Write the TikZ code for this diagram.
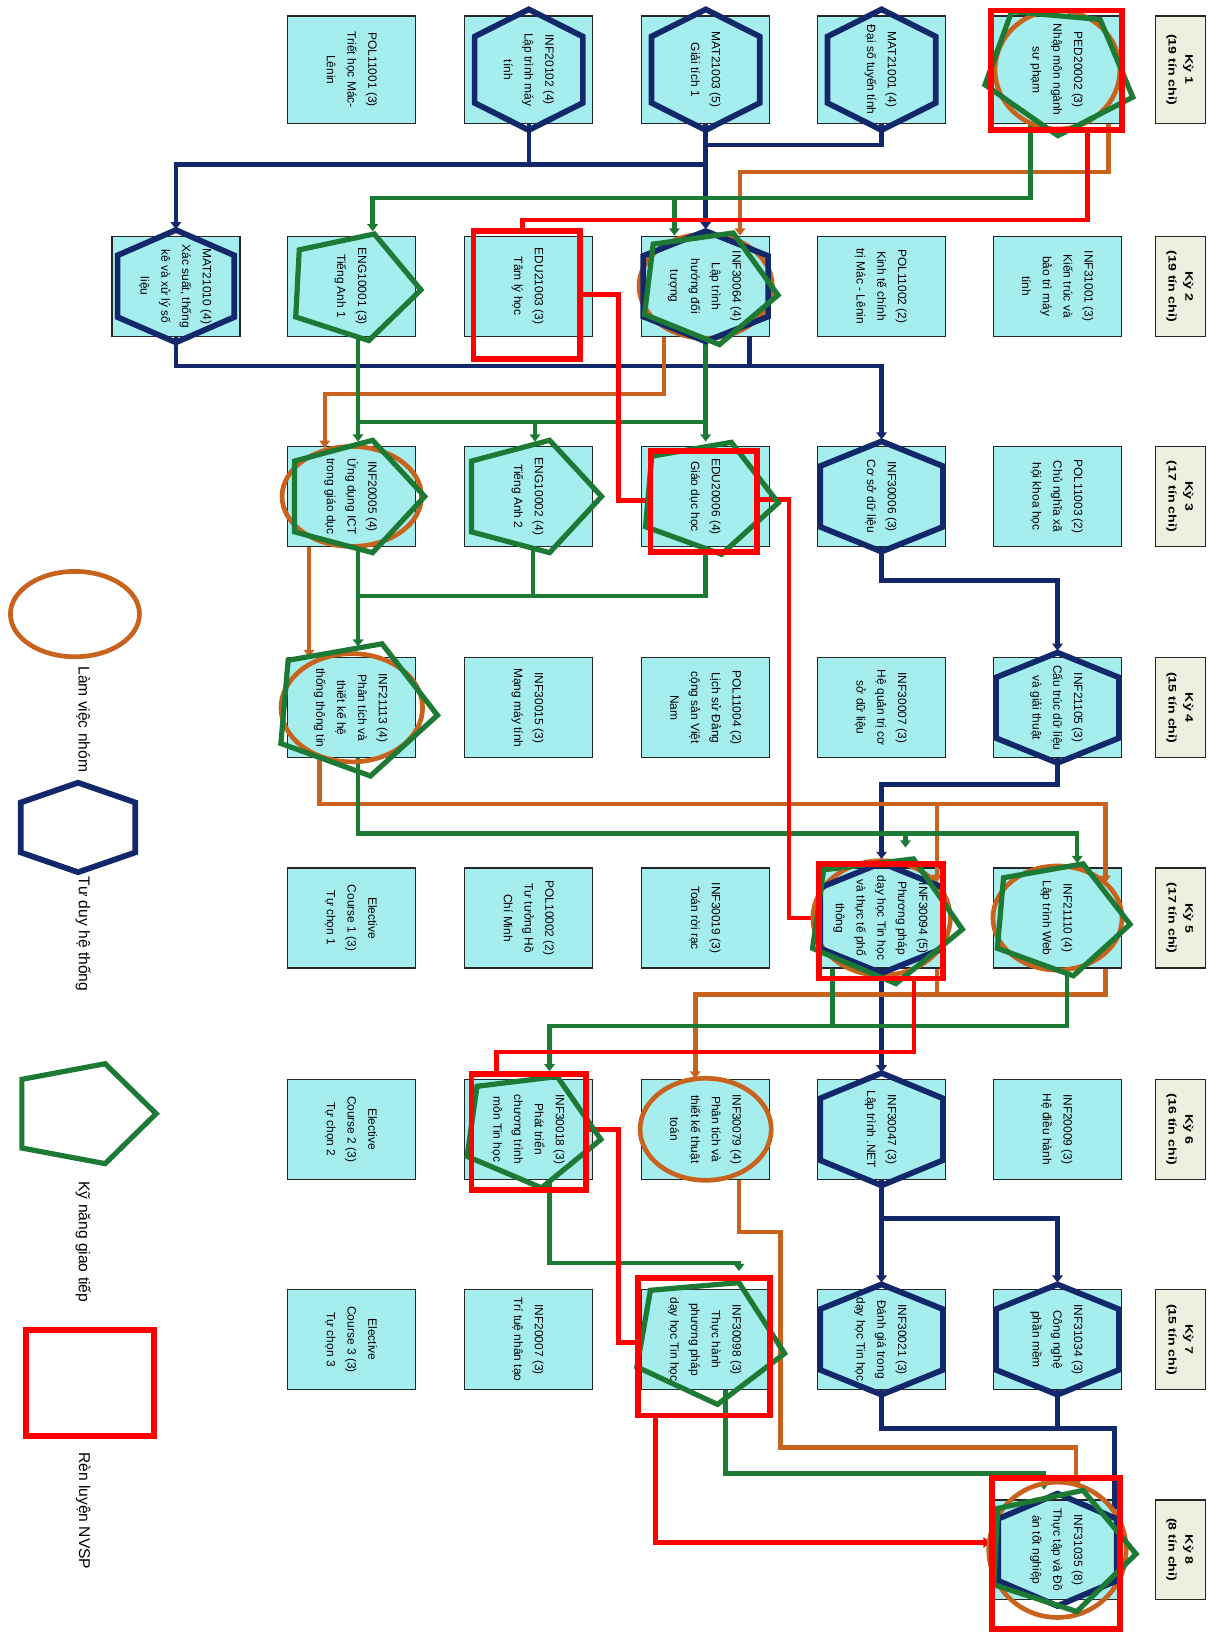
\documentclass[tikz,border=0pt]{standalone}
\usepackage{fontspec}
\setmainfont{Liberation Sans}
\usepackage{graphicx}
\usetikzlibrary{arrows.meta}

\definecolor{boxcyan}{HTML}{A6EEEE}
\definecolor{kygreen}{HTML}{EBF1DE}
\definecolor{sysblue}{HTML}{13286B}
\definecolor{commgreen}{HTML}{1D7A35}
\definecolor{teamorange}{HTML}{C8621C}
\definecolor{nvspred}{HTML}{FF0000}

% course text, turned to read downwards
\newcommand{\crs}[1]{\rotatebox{-90}{\begin{tabular}{@{}c@{}}#1\end{tabular}}}
\newcommand{\kylab}[2]{\rotatebox{-90}{\scalebox{1.3}[1]{\begin{tabular}{@{}c@{}}Kỳ #1\\(#2 tín chỉ)\end{tabular}}}}

\begin{document}
\begin{tikzpicture}[
  x=1pt, y=-1pt,
  >={Triangle[length=7pt,width=10pt]},
  course/.style = {
    draw=black!85, line width=1.3pt,
    fill=boxcyan, inner sep=0pt,
    minimum width=\boxw, minimum height=\boxh,
    font=\fontsize{11.5}{20}\selectfont
  },
  tall/.style  = {minimum height=103pt},
  kybox/.style = {
    draw=black!85, line width=1.3pt,
    fill=kygreen, inner sep=0pt,
    minimum width=48pt, minimum height=\boxh,
    font=\bfseries\fontsize{10.5}{16}\selectfont
  },
  sys/.style  = {draw=sysblue, line width=4.3pt},
  team/.style = {draw=teamorange, line width=4.3pt},
  comm/.style = {draw=commgreen, line width=4.3pt},
  nvsp/.style = {draw=nvspred, line width=4.3pt},
  sysring/.style  = {draw=sysblue, line width=5.5pt},
  teamring/.style = {draw=teamorange, line width=4.5pt},
  commring/.style = {draw=commgreen, line width=5pt},
  nvspring/.style = {draw=nvspred, line width=5.5pt},
  legtext/.style  = {rotate=-90, anchor=west, inner sep=0pt, font=\fontsize{15}{17}\selectfont}
]

% ---- constants ----
\def\boxw{123pt}     % course box width
\def\boxh{96pt}      % course box height
\def\cA{169} \def\cB{338} \def\cC{508} \def\cD{678} \def\cE{847} \def\cF{1016} \def\cK{1134}
\def\rA{67} \def\rB{275} \def\rC{477} \def\rD{680} \def\rE{882} \def\rF{1085} \def\rG{1287} \def\rH{1489}

\path[fill=white, use as bounding box] (0,0) rectangle (1171,1568);

% ---- Kỳ 1 ----
\node[kybox,tall] (ky1) at (\cK,\rA) {\kylab{1}{19}};
\node[course,tall] (pol11001) at (\cB,\rA) {\crs{POL11001 (3)\\Triết học Mác-\\Lênin}};
\node[course,tall] (inf20102) at (\cC,\rA) {\crs{INF20102 (4)\\Lập trình máy\\tính}};
\node[course,tall] (mat21003) at (\cD,\rA) {\crs{MAT21003 (5)\\Giải tích 1}};
\node[course,tall] (mat21001) at (\cE,\rA) {\crs{MAT21001 (4)\\Đại số tuyến tính}};
\node[course,tall] (ped20002) at (\cF,\rA) {\crs{PED20002 (3)\\Nhập môn ngành\\sư phạm}};

% ---- Kỳ 2 ----
\node[kybox] (ky2) at (\cK,\rB) {\kylab{2}{19}};
\node[course] (mat21010) at (\cA,\rB) {\crs{MAT21010 (4)\\Xác suất, thống\\kê và xử lý số\\liệu}};
\node[course] (eng10001) at (\cB,\rB) {\crs{ENG10001 (3)\\Tiếng Anh 1}};
\node[course] (edu21003) at (\cC,\rB) {\crs{EDU21003 (3)\\Tâm lý học}};
\node[course] (inf30064) at (\cD,\rB) {\crs{INF30064 (4)\\Lập trình\\hướng đối\\tượng}};
\node[course] (pol11002) at (\cE,\rB) {\crs{POL11002 (2)\\Kinh tế chính\\trị Mác - Lênin}};
\node[course] (inf31001) at (\cF,\rB) {\crs{INF31001 (3)\\Kiến trúc và\\bảo trì máy\\tính}};

% ---- Kỳ 3 ----
\node[kybox] (ky3) at (\cK,\rC) {\kylab{3}{17}};
\node[course] (inf20005) at (\cB,\rC) {\crs{INF20005 (4)\\Ứng dụng ICT\\trong giáo dục}};
\node[course] (eng10002) at (\cC,\rC) {\crs{ENG10002 (4)\\Tiếng Anh 2}};
\node[course] (edu20006) at (\cD,\rC) {\crs{EDU20006 (4)\\Giáo dục học}};
\node[course] (inf30006) at (\cE,\rC) {\crs{INF30006 (3)\\Cơ sở dữ liệu}};
\node[course] (pol11003) at (\cF,\rC) {\crs{POL11003 (2)\\Chủ nghĩa xã\\hội khoa học}};

% ---- Kỳ 4 ----
\node[kybox] (ky4) at (\cK,\rD) {\kylab{4}{15}};
\node[course] (inf21113) at (\cB,\rD) {\crs{INF21113 (4)\\Phân tích và\\thiết kế hệ\\thống thông tin}};
\node[course] (inf30015) at (\cC,\rD) {\crs{INF30015 (3)\\Mạng máy tính}};
\node[course] (pol11004) at (\cD,\rD) {\crs{POL11004 (2)\\Lịch sử Đảng\\cộng sản Việt\\Nam}};
\node[course] (inf30007) at (\cE,\rD) {\crs{INF30007 (3)\\Hệ quản trị cơ\\sở dữ liệu}};
\node[course] (inf21105) at (\cF,\rD) {\crs{INF21105 (3)\\Cấu trúc dữ liệu\\và giải thuật}};

% ---- Kỳ 5 ----
\node[kybox] (ky5) at (\cK,\rE) {\kylab{5}{17}};
\node[course] (elec1) at (\cB,\rE) {\crs{Elective\\Course 1 (3)\\Tự chọn 1}};
\node[course] (pol10002) at (\cC,\rE) {\crs{POL10002 (2)\\Tư tưởng Hồ\\Chí Minh}};
\node[course] (inf30019) at (\cD,\rE) {\crs{INF30019 (3)\\Toán rời rạc}};
\node[course] (inf30094) at (\cE,\rE) {\crs{INF30094 (5)\\Phương pháp\\dạy học Tin học\\và thực tế phổ\\thông}};
\node[course] (inf21110) at (\cF,\rE) {\crs{INF21110 (4)\\Lập trình Web}};

% ---- Kỳ 6 ----
\node[kybox] (ky6) at (\cK,\rF) {\kylab{6}{16}};
\node[course] (elec2) at (\cB,\rF) {\crs{Elective\\Course 2 (3)\\Tự chọn 2}};
\node[course] (inf30018) at (\cC,\rF) {\crs{INF30018 (3)\\Phát triển\\chương trình\\môn Tin học}};
\node[course] (inf30079) at (\cD,\rF) {\crs{INF30079 (4)\\Phân tích và\\thiết kế thuật\\toán}};
\node[course] (inf30047) at (\cE,\rF) {\crs{INF30047 (3)\\Lập trình .NET}};
\node[course] (inf20009) at (\cF,\rF) {\crs{INF20009 (3)\\Hệ điều hành}};

% ---- Kỳ 7 ----
\node[kybox] (ky7) at (\cK,\rG) {\kylab{7}{15}};
\node[course] (elec3) at (\cB,\rG) {\crs{Elective\\Course 3 (3)\\Tự chọn 3}};
\node[course] (inf20007) at (\cC,\rG) {\crs{INF20007 (3)\\Trí tuệ nhân tạo}};
\node[course] (inf30098) at (\cD,\rG) {\crs{INF30098 (3)\\Thực hành\\phương pháp\\dạy học Tin học}};
\node[course] (inf30021) at (\cE,\rG) {\crs{INF30021 (3)\\Đánh giá trong\\dạy học Tin học}};
\node[course] (inf31034) at (\cF,\rG) {\crs{INF31034 (3)\\Công nghệ\\phần mềm}};

% ---- Kỳ 8 ----
\node[kybox] (ky8) at (\cK,\rH) {\kylab{8}{8}};
\node[course] (inf31035) at (\cF,\rH) {\crs{INF31035 (8)\\Thực tập và Đồ\\án tốt nghiệp}};

% ---- navy connectors (Tư duy hệ thống) ----
\draw[sys,->] (mat21003.south) -- ++(0,39) -| ([yshift=6pt]mat21010.north);
\draw[sys] (inf20102.south) -- ++(0,39);
\draw[sys,->] (mat21003.south) -- ([yshift=6pt]inf30064.north);
\draw[sys] (mat21001.south) -- ++(0,20) -| ([yshift=-20pt]mat21003.south);
\draw[sys,->] (mat21010.south) -- ++(0,28) -| ([yshift=6pt]inf30006.north);
\draw[sys] ([xshift=42pt]inf30064.south) -- ++(0,28);
\draw[sys,->] (inf30006.south) -- ++(0,32) -| ([yshift=6pt]inf21105.north);
\draw[sys,->] (inf21105.south) -- ++(0,25) -| ([yshift=8pt]inf30094.north);
\draw[sys,->] (inf30094.south) -- ([yshift=6pt]inf30047.north);
\draw[sys,->] (inf30047.south) -- ++(0,37) -| ([yshift=6pt]inf31034.north);
\draw[sys,->] (inf30047.south) -- ([yshift=6pt]inf30021.north);
\draw[sys,->] (inf30021.south) -- ++(0,37) -| ([xshift=55pt,yshift=-12pt]inf31035.north);
\draw[sys] (inf31034.south) -- ++(0,37);

% ---- orange connectors (Làm việc nhóm) ----
\draw[team,->] ([xshift=49pt]ped20002.south) -- ++(0,46) -| ([xshift=33pt]inf30064.north);
\draw[team,->] ([xshift=-40pt]inf30064.south) -- ++(0,55) -| ([xshift=-26pt,yshift=-2pt]inf20005.north);
\draw[team,->] ([xshift=-41pt]inf20005.south) -- ([xshift=-41pt]inf21113.north);
\draw[team,->] ([xshift=-31pt]inf21113.south) -- ++(0,44) -| ([xshift=46pt,yshift=-15pt]inf21110.north);
\draw[team,->] ([xshift=-31pt]inf21113.south) -- ++(0,44) -| ([xshift=53pt,yshift=-14pt]inf30094.north);
\draw[team,->] ([xshift=46pt]inf21110.south) -- ++(0,25) -| ([xshift=-10pt]inf30079.north);
\draw[team] ([xshift=53pt]inf30094.south) -- ++(0,25);
\draw[team,->] ([xshift=32pt]inf30079.south) -- ++(0,50) -- ++(40,0) -- ++(0,207)
  -| ([xshift=18pt,yshift=11pt]inf31035.north);

% ---- green connectors (Kỹ năng giao tiếp) ----
\draw[comm,->] ([xshift=-26pt]ped20002.south) -- ++(0,71) -| ([xshift=20pt,yshift=4pt]eng10001.north);
\draw[comm,->] ([xshift=-26pt]ped20002.south) -- ++(0,71) -| ([xshift=-30pt]inf30064.north);
\draw[comm,->] ([xshift=6pt]eng10001.south) -- ([xshift=6pt,yshift=4pt]inf20005.north);
\draw[comm,->] ([xshift=6pt]eng10001.south) -- ++(0,82) -| ([xshift=6pt,yshift=4pt]eng10002.north);
\draw[comm,->] ([xshift=6pt]eng10001.south) -- ++(0,82) -| ([yshift=4pt]edu20006.north);
\draw[comm] (inf30064.south) -- ++(0,82);
\draw[comm,->] ([xshift=6pt]inf20005.south) -- ([xshift=6pt,yshift=10pt]inf21113.north);
\draw[comm] ([xshift=4pt]eng10002.south) -- ++(0,47) -- ([xshift=6pt,yshift=-47pt]inf20005.south);
\draw[comm] (edu20006.south) -- ++(0,47) -- ([xshift=4pt,yshift=-47pt]eng10002.south);
\draw[comm,->] ([xshift=6pt]inf21113.south) -- ++(0,72) -| ([xshift=19pt,yshift=4pt]inf21110.north);
\draw[comm,->] ([xshift=6pt]inf21113.south) -- ++(0,72) -| ([xshift=23pt,yshift=19pt]inf30094.north);
\draw[comm,->] ([xshift=9pt]inf21110.south) -- ++(0,55) -| ([xshift=20pt,yshift=7pt]inf30018.north);
\draw[comm] ([xshift=-47pt]inf30094.south) -- ++(0,55);
\draw[comm,->] ([xshift=20pt]inf30018.south) -- ++(0,80) -| ([xshift=32pt,yshift=17pt]inf30098.north);
\draw[comm,->] ([xshift=19pt]inf30098.south) -- ++(0,80) -| ([xshift=-13pt,yshift=9pt]inf31035.north);

% ---- red connectors (Rèn luyện NVSP) ----
\draw[nvsp] ([xshift=29pt,yshift=-6pt]ped20002.south) -- ++(0,86) -| ([xshift=-6pt,yshift=5pt]edu21003.north);
\draw[nvsp] ([xshift=-12pt,yshift=-8pt]edu21003.east) -- ++(36,0) |- ([xshift=7pt,yshift=-4pt]edu20006.west);
\draw[nvsp] ([xshift=-12pt,yshift=-3pt]edu20006.east) -- ++(30,0) |- ([xshift=2pt]inf30094.west);
\draw[nvsp] ([xshift=31pt,yshift=-10pt]inf30094.south) -- ++(0,70) -| ([xshift=-31pt,yshift=5pt]inf30018.north);
\draw[nvsp] ([xshift=-6pt]inf30018.east) -- ++(30,0) |- ([xshift=-3pt,yshift=-3pt]inf30098.west);
\draw[nvsp,->] ([xshift=-48pt,yshift=-25pt]inf30098.south) |- ([xshift=-2pt,yshift=7pt]inf31035.west);

% ---- skill outlines ----
\foreach \n/\rx/\ry in {ped20002/60/57, inf30064/64/50, inf20005/67/48, inf21113/68/52,
    inf30094/66/55, inf21110/62/50, inf30079/63/49, inf31035/66/65}
  \draw[teamring] (\n.center) ellipse [x radius=\rx, y radius=\ry];

\foreach \n/\hw/\hh in {inf20102/52/58, mat21003/52/58, mat21001/52/58, mat21010/56/54,
    inf30064/60/53, inf30006/59/53, inf21105/59/53, inf30094/59/53, inf30047/59/54,
    inf30021/59/53, inf31034/59/53, inf31035/57/54}
  \draw[sysring] (\n.center) +(0,-\hh) -- +(\hw,-0.55*\hh) -- +(\hw,0.55*\hh) -- +(0,\hh)
    -- +(-\hw,0.55*\hh) -- +(-\hw,-0.55*\hh) -- cycle;

\foreach \n/\rot/\sc in {ped20002/-20/1.1, eng10001/-3/0.95, inf30064/-7/1.0, inf20005/0/1.0,
    eng10002/0/1.0, edu20006/-5/1.0, inf21113/-5/1.18, inf30094/-8/1.12, inf21110/-5/1.0,
    inf30018/-8/1.0, inf30098/-10/1.1, inf31035/-3/1.08} {
  \begin{scope}[shift={(\n.center)}, rotate=\rot, scale=\sc]
    \draw[commring] (70,0) -- (20,-54) -- (-55,-34) -- (-55,34) -- (20,54) -- cycle;
  \end{scope}
}

\foreach \n/\xa/\ya/\xb/\yb in {ped20002/-64/-57/62/58, edu21003/-53/-53/49/70,
    edu20006/-53/-44/49/53, inf30094/-60/-52/59/58, inf30018/-55/-53/55/58,
    inf30098/-65/-59/62/73, inf31035/-63/-69/60/76}
  \draw[nvspring] (\n.center) +(\xa,\ya) rectangle +(\xb,\yb);

% ---- legend ----
\draw[teamring] (72,590) ellipse [x radius=62, y radius=41];
\node[legtext] (legteam) at (80,640) {Làm việc nhóm};
\draw[sysring] (75,752) -- (130,771) -- (130,819) -- (75,838) -- (20,819) -- (20,771) -- cycle;
\node[legtext] (legsys) at (80,842) {Tư duy hệ thống};
\draw[commring] (21,1037) -- (101,1022) -- (150,1070) -- (101,1118) -- (21,1103) -- cycle;
\node[legtext] (legcomm) at (80,1135) {Kỹ năng giao tiếp};
\draw[nvspring] (25,1278) rectangle (148,1380);
\node[legtext] (legnvsp) at (80,1395) {Rèn luyện NVSP};

\end{tikzpicture}
\end{document}
